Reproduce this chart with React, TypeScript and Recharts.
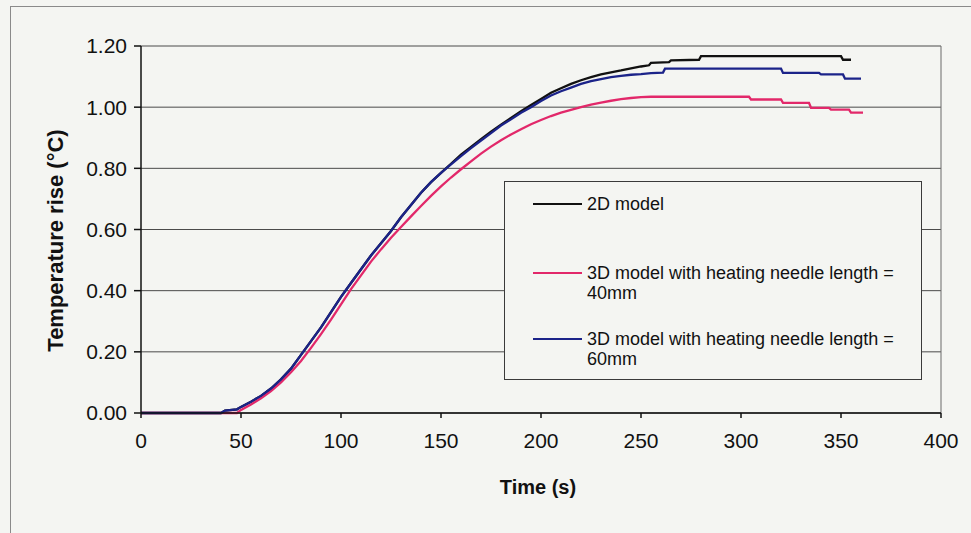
import React from 'react';
import { LineChart, Line, XAxis, YAxis, CartesianGrid, Legend, ReferenceLine } from 'recharts';

const FONT = '"Liberation Sans", Arial, Helvetica, sans-serif';
const BG = '#f4f5f2';

const seriesNames = [
  '2D model',
  '3D model with heating needle length = 40mm',
  '3D model with heating needle length = 60mm',
];
const seriesColors = ['#111111', '#e2286a', '#1b2389'];

const xTicks = [0, 50, 100, 150, 200, 250, 300, 350, 400];
const yTicks = [0, 0.2, 0.4, 0.6, 0.8, 1.0, 1.2];

const time2D = [0, 40, 42, 48, 50, 55, 60, 65, 70, 75, 80, 85, 90, 95, 100, 105, 110, 115, 120, 125, 130, 135, 140, 145, 150, 155, 160, 165, 170, 175, 180, 185, 190, 195, 200, 205, 210, 215, 220, 225, 230, 235, 240, 245, 250, 254, 255, 264, 265, 279, 280, 350, 351, 355];
const rise2D = [0, 0, 0.008, 0.012, 0.02, 0.037, 0.056, 0.08, 0.11, 0.145, 0.19, 0.235, 0.28, 0.33, 0.38, 0.425, 0.47, 0.515, 0.555, 0.595, 0.64, 0.68, 0.72, 0.755, 0.785, 0.815, 0.845, 0.87, 0.895, 0.92, 0.943, 0.965, 0.987, 1.007, 1.027, 1.047, 1.062, 1.076, 1.088, 1.098, 1.107, 1.114, 1.12, 1.127, 1.133, 1.137, 1.145, 1.147, 1.153, 1.155, 1.167, 1.167, 1.155, 1.155];

const time40 = [0, 48, 50, 55, 60, 65, 70, 75, 80, 85, 90, 95, 100, 105, 110, 115, 120, 125, 130, 135, 140, 145, 150, 155, 160, 165, 170, 175, 180, 185, 190, 195, 200, 205, 210, 215, 220, 225, 230, 235, 240, 245, 250, 255, 304, 305, 320, 321, 334, 335, 344, 345, 354, 355, 361];
const rise40 = [0, 0, 0.01, 0.028, 0.048, 0.072, 0.1, 0.133, 0.17, 0.213, 0.258, 0.305, 0.355, 0.405, 0.45, 0.495, 0.535, 0.573, 0.608, 0.643, 0.677, 0.71, 0.741, 0.77, 0.797, 0.823, 0.848, 0.871, 0.892, 0.911, 0.928, 0.944, 0.958, 0.971, 0.982, 0.991, 1.0, 1.008, 1.015, 1.021, 1.026, 1.03, 1.033, 1.034, 1.034, 1.025, 1.025, 1.014, 1.014, 0.998, 0.998, 0.992, 0.992, 0.982, 0.982];

const time60 = [0, 40, 42, 48, 50, 55, 60, 65, 70, 75, 80, 85, 90, 95, 100, 105, 110, 115, 120, 125, 130, 135, 140, 145, 150, 155, 160, 165, 170, 175, 180, 185, 190, 195, 200, 205, 210, 215, 220, 225, 230, 235, 240, 245, 250, 255, 261, 262, 320, 321, 339, 340, 351, 352, 360];
const rise60 = [0, 0, 0.008, 0.012, 0.02, 0.037, 0.056, 0.08, 0.11, 0.145, 0.19, 0.235, 0.28, 0.33, 0.38, 0.425, 0.47, 0.515, 0.555, 0.595, 0.64, 0.68, 0.72, 0.755, 0.785, 0.813, 0.84, 0.866, 0.891, 0.915, 0.94, 0.96, 0.982, 1.0, 1.02, 1.038, 1.052, 1.064, 1.076, 1.085, 1.092, 1.098, 1.102, 1.106, 1.108, 1.111, 1.113, 1.126, 1.126, 1.112, 1.112, 1.107, 1.107, 1.093, 1.093];

const toPoints = (ts: number[], vs: number[]) => ts.map((t, i) => ({ t, v: vs[i] }));

const seriesData = [toPoints(time2D, rise2D), toPoints(time40, rise40), toPoints(time60, rise60)];

const itemTops = [12, 81, 147];

const LegendBox = (props: any) => {
  const payload = props.payload || [];
  return (
    <div
      style={{
        position: 'relative',
        width: 418,
        height: 199,
        border: '1px solid #3a3a3a',
        boxSizing: 'border-box',
        background: BG,
      }}
    >
      {payload.map((p: any, i: number) => (
        <div
          key={i}
          style={{ position: 'absolute', left: 28, top: itemTops[i], display: 'flex', alignItems: 'flex-start' }}
        >
          <div style={{ width: 49, height: 2, background: p.color, marginTop: 9 }} />
          <div
            style={{
              marginLeft: 5,
              width: 325,
              fontSize: 18,
              lineHeight: '20px',
              color: '#111',
              fontFamily: FONT,
              textAlign: 'left',
            }}
          >
            {p.value}
          </div>
        </div>
      ))}
    </div>
  );
};

const YTitle = (props: any) => {
  const vb = props.viewBox || { x: 0, y: 46, width: 141, height: 367 };
  const cx = vb.x + 55;
  const cy = vb.y + vb.height / 2 + 11;
  return (
    <text
      x={cx}
      y={cy}
      transform={`rotate(-90 ${cx} ${cy})`}
      textAnchor="middle"
      dominantBaseline="central"
      fontSize={22}
      fontWeight="bold"
      fill="#111"
      fontFamily={FONT}
    >
      Temperature rise (°C)
    </text>
  );
};

const XTitle = (props: any) => {
  const vb = props.viewBox || { x: 141, y: 413, width: 800, height: 120 };
  const cx = vb.x + vb.width / 2 - 3;
  const cy = vb.y + 74;
  return (
    <text
      x={cx}
      y={cy}
      textAnchor="middle"
      dominantBaseline="central"
      fontSize={20}
      fontWeight="bold"
      fill="#111"
      fontFamily={FONT}
    >
      Time (s)
    </text>
  );
};

export default function App() {
  return (
    <div
      style={{
        position: 'fixed',
        left: 0,
        top: 0,
        width: 971,
        height: 533,
        background: BG,
        overflow: 'hidden',
      }}
    >
      <div
        style={{
          position: 'absolute',
          left: 10,
          top: 6,
          width: 1000,
          height: 600,
          borderLeft: '1px solid #8a8a8a',
          borderTop: '1px solid #8a8a8a',
        }}
      />
      <div style={{ position: 'absolute', left: 0, top: 0 }}>
        <LineChart
          width={971}
          height={533}
          margin={{ top: 46, right: 30, bottom: 0, left: 0 }}
          style={{ fontFamily: FONT }}
        >
          <CartesianGrid horizontal={true} vertical={false} stroke="#4a4a4a" strokeWidth={1} />
          <XAxis
            type="number"
            dataKey="t"
            domain={[0, 400]}
            ticks={xTicks}
            allowDataOverflow
            height={120}
            tickSize={5}
            tickMargin={15}
            stroke="#111"
            strokeWidth={1.5}
            tick={{ fill: '#111', fontSize: 21, fontFamily: FONT }}
            tickLine={{ stroke: '#111' }}
            label={{ content: XTitle }}
          />
          <YAxis
            type="number"
            domain={[0, 1.2]}
            ticks={yTicks}
            width={141}
            tickSize={7}
            tickMargin={7}
            stroke="#111"
            strokeWidth={1.5}
            tick={{ fill: '#111', fontSize: 21, fontFamily: FONT }}
            tickFormatter={(v: number) => v.toFixed(2)}
            label={{ content: YTitle }}
          />
          <ReferenceLine x={400} stroke="#6a6a6a" strokeWidth={1} />
          {seriesNames.map((name, i) => (
            <Line
              key={name}
              name={name}
              data={seriesData[i]}
              dataKey="v"
              type="linear"
              stroke={seriesColors[i]}
              strokeWidth={2.3}
              dot={false}
              activeDot={false}
              isAnimationActive={false}
            />
          ))}
          <Legend
            layout="horizontal"
            verticalAlign="middle"
            align="center"
            content={LegendBox}
            wrapperStyle={{ position: 'absolute', left: 504, top: 181, width: 418, height: 199 }}
          />
        </LineChart>
      </div>
    </div>
  );
}
